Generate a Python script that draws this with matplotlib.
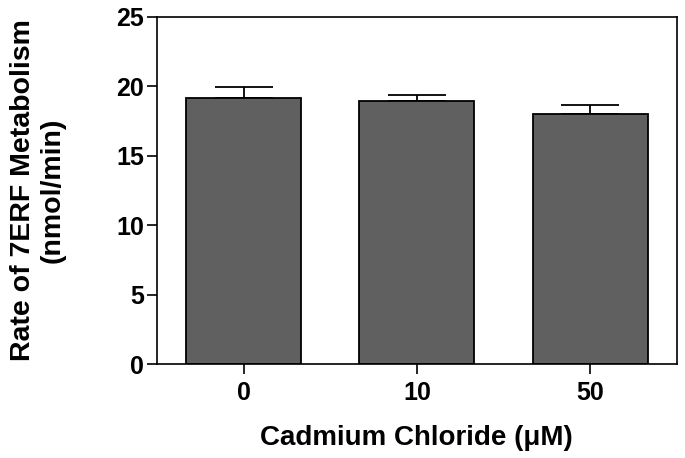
import matplotlib
matplotlib.use("Agg")
import matplotlib.pyplot as plt
import numpy as np

categories = ["0", "10", "50"]
values = [19.16, 18.93, 18.03]
errors = [0.77, 0.45, 0.63]
yticks = [0, 5, 10, 15, 20, 25]

plt.rcParams['font.family'] = ['Liberation Sans', 'DejaVu Sans']
plt.rcParams['font.weight'] = 'bold'

fig = plt.figure(figsize=(6.85, 4.58), dpi=100)
ax = fig.add_axes([0.229, 0.205, 0.759, 0.758])

x = np.arange(len(categories))
ax.bar(x, values, width=0.665, color='#606060', edgecolor='black', linewidth=1.3, zorder=2)
ax.errorbar(x, values, yerr=[np.zeros(len(errors)), errors], fmt='none',
            ecolor='black', elinewidth=1.3, capsize=21, capthick=1.3, zorder=1)

ax.set_xlim(-0.5, 2.5)
ax.set_ylim(0, 25)
ax.set_xticks(x)
ax.set_xticklabels(categories)
ax.set_yticks(yticks)
for s in ax.spines.values():
    s.set_linewidth(1.2)
ax.tick_params(axis='both', length=7, width=1.2, labelsize=18)
ax.tick_params(axis='y', pad=2)
ax.tick_params(axis='x', pad=5)
for lab in ax.get_xticklabels() + ax.get_yticklabels():
    lab.set_fontweight('bold')

ax.set_xlabel("Cadmium Chloride (\u03bcM)", fontsize=20, fontweight='bold', va='center')
ax.xaxis.set_label_coords(0.5, -0.213)
ax.set_ylabel("Rate of 7ERF Metabolism\n(nmol/min)", fontsize=20.5, fontweight='bold',
              va='center', ha='center', linespacing=1.15)
ax.yaxis.set_label_coords(-0.229, 0.5)

fig.savefig("out.png", dpi=100)
